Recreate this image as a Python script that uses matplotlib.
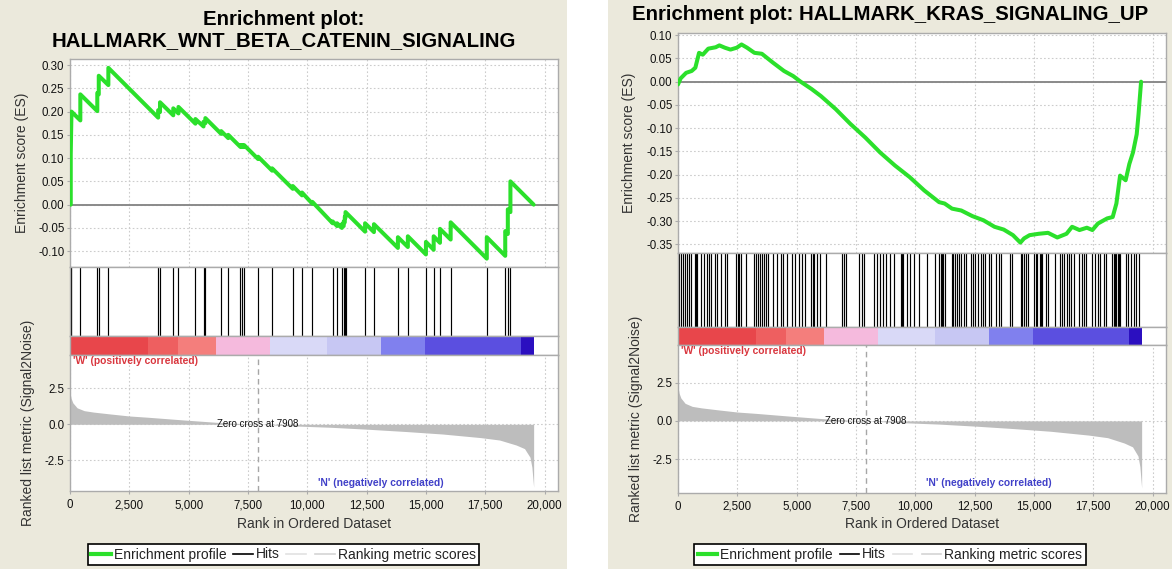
import matplotlib
matplotlib.use("Agg")
import matplotlib.pyplot as plt
from matplotlib.lines import Line2D
from matplotlib.patches import Rectangle
from matplotlib.ticker import FuncFormatter, MultipleLocator

plt.rcParams['font.family'] = ['Liberation Sans', 'DejaVu Sans']
plt.rcParams['axes.unicode_minus'] = False

# ---------------------------------------------------------------- data
# ranked list metric (Signal2Noise) shared by both gene sets
metric_rank = [0, 50, 120, 300, 600, 1000, 1700, 2500, 3300, 4800, 6400, 7908,
               9500, 11000, 12600, 14200, 15700, 17300, 18100, 18800, 19150,
               19380, 19460, 19534]
metric_value = [2.2, 1.8, 1.5, 1.15, 0.95, 0.85, 0.72, 0.58, 0.49, 0.30, 0.11,
                0.0, -0.12, -0.21, -0.35, -0.51, -0.68, -0.93, -1.1, -1.45,
                -1.7, -2.3, -3.0, -4.4]
zero_cross = 7908

# heat-map bar of the ranked list
cbar_edges = [0, 3294, 4538, 6169, 8423, 10831, 13085, 14950, 18990, 19534]
cbar_colors = ['#E8464B', '#EE5F60', '#F47E7C', '#F5BADD', '#D9D9F7',
               '#C7C7F3', '#8080EE', '#5B4FE0', '#2B0FC0']

rank_ticks = [0, 2500, 5000, 7500, 10000, 12500, 15000, 17500, 20000]

# HALLMARK_WNT_BETA_CATENIN_SIGNALING
wnt_hits = [31, 62, 435, 1150, 1212, 1616, 3714, 3792, 4351, 4569, 5284, 5625,
            5703, 6371, 6667, 7180, 7257, 7335, 7925, 8516, 9386, 9775, 10210,
            11064, 11251, 11453, 11531, 11577, 11608, 12432, 12805, 13815,
            14234, 14996, 15322, 15587, 16037, 17560, 18337, 18446, 18555]
wnt_es_rank = [0, 31, 31, 62, 435, 435, 1150, 1150, 1212, 1212, 1616, 1616,
               3714, 3714, 3792, 3792, 4351, 4351, 4569, 4569, 5284, 5284,
               5625, 5625, 5703, 5703, 6371, 6371, 6667, 6667, 7180, 7180,
               7257, 7257, 7335, 7335, 7925, 7925, 8516, 8516, 9386, 9386,
               9775, 9775, 10210, 10210, 11064, 11064, 11251, 11251, 11453,
               11453, 11531, 11531, 11577, 11577, 11608, 11608, 12432, 12432,
               12805, 12805, 13815, 13815, 14234, 14234, 14996, 14996, 15322,
               15322, 15587, 15587, 16037, 16037, 17560, 17560, 18337, 18337,
               18446, 18446, 18555, 18555, 19534]
wnt_es_value = [0.0, 0.0, 0.108, 0.200, 0.181, 0.237, 0.201, 0.240, 0.237,
                0.277, 0.257, 0.294, 0.187, 0.203, 0.199, 0.220, 0.192, 0.207,
                0.196, 0.210, 0.174, 0.184, 0.168, 0.178, 0.175, 0.186, 0.152,
                0.158, 0.143, 0.150, 0.124, 0.128, 0.124, 0.128, 0.124, 0.128,
                0.098, 0.103, 0.073, 0.078, 0.034, 0.040, 0.020, 0.026, 0.002,
                0.006, -0.040, -0.036, -0.046, -0.040, -0.050, -0.042, -0.046,
                -0.036, -0.038, -0.026, -0.028, -0.016, -0.058, -0.040, -0.059,
                -0.042, -0.093, -0.070, -0.091, -0.068, -0.107, -0.080, -0.097,
                -0.068, -0.082, -0.052, -0.075, -0.038, -0.116, -0.070, -0.110,
                -0.057, -0.063, -0.010, -0.016, 0.050, 0.0]

# HALLMARK_KRAS_SIGNALING_UP
kras_hits = [59, 143, 227, 312, 396, 480, 564, 704, 760, 816, 956, 1097, 1209,
             1293, 1405, 1545, 1657, 1826, 1966, 2050, 2443, 2513, 2583, 2639,
             2863, 3200, 3284, 3368, 3452, 3536, 3620, 3704, 3788, 3985, 4181,
             4321, 4434, 4602, 4798, 4910, 5078, 5219, 5331, 5611, 5668, 5724,
             5864, 5976, 6228, 6929, 6999, 7069, 7630, 7742, 7826, 8275, 8387,
             8499, 8640, 8780, 8948, 9088, 9397, 9439, 9481, 9649, 9789, 9944,
             10168, 10476, 10813, 11009, 11065, 11121, 11177, 11261, 11542,
             11598, 11654, 11738, 11822, 11934, 12047, 12131, 12327, 12439,
             12523, 12635, 12748, 12832, 12944, 13084, 13168, 13392, 13504,
             13617, 13981, 14065, 14430, 14514, 14598, 14682, 14766, 15019,
             15075, 15131, 15243, 15299, 15355, 15495, 15608, 15888, 16084,
             16196, 16280, 16393, 16477, 16561, 16701, 16897, 17010, 17122,
             17206, 17458, 17570, 17682, 17795, 17935, 18019, 18299, 18355,
             18411, 18467, 18523, 18579, 18636, 18860, 18972, 19084, 19196,
             19308, 19420]
kras_es_rank = [0, 109, 342, 576, 731, 887, 1043, 1276, 1587, 1743, 1976, 2210,
                2474, 2676, 2910, 3221, 3532, 3999, 4466, 4855, 5166, 5633,
                6022, 6644, 7267, 7889, 8511, 9134, 9756, 10378, 11000, 11234,
                11546, 11935, 12401, 12868, 13335, 13724, 14113, 14424, 14580,
                14813, 15202, 15591, 15980, 16369, 16603, 16914, 17226, 17459,
                17692, 18081, 18314, 18470, 18625, 18859, 19015, 19170, 19326,
                19403, 19510]
kras_es_value = [-0.006, 0.007, 0.019, 0.023, 0.030, 0.062, 0.058, 0.071,
                 0.074, 0.078, 0.073, 0.069, 0.073, 0.080, 0.073, 0.062, 0.060,
                 0.041, 0.023, 0.012, 0.000, -0.016, -0.031, -0.059, -0.091,
                 -0.120, -0.152, -0.180, -0.205, -0.234, -0.259, -0.262,
                 -0.273, -0.277, -0.289, -0.298, -0.312, -0.318, -0.330,
                 -0.346, -0.337, -0.330, -0.327, -0.325, -0.335, -0.327,
                 -0.312, -0.319, -0.314, -0.319, -0.305, -0.294, -0.291,
                 -0.262, -0.202, -0.212, -0.177, -0.152, -0.113, -0.070, 0.000]

# ---------------------------------------------------------------- style
W, H = 1172, 569
BEIGE = '#EBE9DC'
GREEN = '#2BE02B'
SPINE = '#ABABAB'
GRID = '#CCCCCC'
TXT = '#111111'


def frac_box(x0, y0, x1, y1):
    """pixel box (top-left origin) -> figure fraction rect"""
    return [x0 / W, 1 - y1 / H, (x1 - x0) / W, (y1 - y0) / H]


def style_spines(ax):
    for s in ax.spines.values():
        s.set_color(SPINE)
        s.set_linewidth(1.0)


def grid(ax):
    ax.grid(True, color=GRID, linestyle=(0, (1.5, 2)), linewidth=0.8)
    ax.set_axisbelow(True)


fig = plt.figure(figsize=(W / 100, H / 100), dpi=100, facecolor='white')
fig.patches.append(Rectangle((0, 0), 567 / W, 1, transform=fig.transFigure,
                             facecolor=BEIGE, edgecolor='none', zorder=-5))
fig.patches.append(Rectangle((608 / W, 0), (W - 608) / W, 1,
                             transform=fig.transFigure, facecolor=BEIGE,
                             edgecolor='none', zorder=-5))

XMAX = 20560


def draw_panel(g, title, title_y, hits, es_rank, es_value):
    x0, x1 = g['x0'], g['x1']
    ax_es = fig.add_axes(frac_box(x0, g['es'][0], x1, g['es'][1]))
    ax_hit = fig.add_axes(frac_box(x0, g['hits'][0], x1, g['hits'][1]))
    ax_bar = fig.add_axes(frac_box(x0, g['cbar'][0], x1, g['cbar'][1]))
    ax_m = fig.add_axes(frac_box(x0, g['metric'][0], x1, g['metric'][1]))

    for ax in (ax_es, ax_hit, ax_bar, ax_m):
        ax.set_xlim(0, XMAX)
        ax.set_facecolor('white')
        style_spines(ax)

    # enrichment score
    ax_es.plot(es_rank, es_value, color=GREEN, lw=2.9, solid_joinstyle='round',
               solid_capstyle='round', zorder=3)
    ax_es.axhline(0, color='#8A8A8A', lw=1.4, zorder=2)
    ax_es.set_ylim(*g['es_ylim'])
    ax_es.yaxis.set_major_locator(MultipleLocator(0.05))
    ax_es.yaxis.set_major_formatter(FuncFormatter(lambda v, p: f"{v:.2f}"))
    ax_es.set_xticks(rank_ticks)
    ax_es.tick_params(axis='x', length=0, labelbottom=False)
    ax_es.tick_params(axis='y', length=2, color=SPINE, labelsize=8.3,
                      labelcolor=TXT, pad=2)
    grid(ax_es)
    ax_es.set_ylabel('Enrichment score (ES)', fontsize=10, color='#333333',
                     va='center')
    ax_es.yaxis.set_label_coords((g['ylab_es'] - x0) / (x1 - x0), 0.5)

    # hits
    ax_hit.vlines(hits, 0, 1, color='black', lw=0.85)
    ax_hit.set_ylim(0, 1)
    ax_hit.set_xticks([])
    ax_hit.set_yticks([])

    # ranked list heat bar
    for a, b, c in zip(cbar_edges[:-1], cbar_edges[1:], cbar_colors):
        ax_bar.axvspan(a, b, color=c, lw=0)
    ax_bar.set_xticks([])
    ax_bar.set_yticks([])

    # ranked list metric
    ax_m.fill_between(metric_rank, metric_value, 0, color='#BDBDBD', lw=0,
                      zorder=2)
    ax_m.axvline(zero_cross, color='#A6A6A6', lw=1.0, ls=(0, (4, 3)), zorder=3)
    ax_m.set_ylim(*g['m_ylim'])
    ax_m.set_yticks([-2.5, 0.0, 2.5])
    ax_m.yaxis.set_major_formatter(FuncFormatter(lambda v, p: f"{v:.1f}"))
    ax_m.set_xticks(rank_ticks)
    ax_m.xaxis.set_major_formatter(FuncFormatter(lambda v, p: f"{int(v):,}"))
    ax_m.tick_params(length=2, color=SPINE, labelsize=8.3, labelcolor=TXT,
                     pad=2)
    ax_m.tick_params(axis='x', pad=4)
    grid(ax_m)
    ax_m.text(zero_cross, 0, f'Zero cross at {zero_cross}', ha='center',
              va='center', fontsize=7, color=TXT, zorder=4)
    ax_m.text(0.006, 0.995, "'W' (positively correlated)",
              transform=ax_m.transAxes, ha='left', va='top', fontsize=7.4,
              fontweight='bold', color='#D9363E', zorder=4)
    ax_m.text(13100, -4.1, "'N' (negatively correlated)", ha='center',
              va='center', fontsize=7.4, fontweight='bold', color='#4040C8',
              zorder=4)
    ax_m.set_ylabel('Ranked list metric (Signal2Noise)', fontsize=10,
                    color='#333333', va='center')
    ax_m.yaxis.set_label_coords((g['ylab_m'] - x0) / (x1 - x0), 0.5)
    ax_m.set_xlabel('Rank in Ordered Dataset', fontsize=10, color='#333333',
                    va='center')
    mh = g['metric'][1] - g['metric'][0]
    ax_m.xaxis.set_label_coords(0.5, -(524 - g['metric'][1]) / mh)

    # title
    cx = (g['panel'][0] + g['panel'][1]) / 2
    fig.text(cx / W, 1 - title_y / H, title, ha='center', va='center',
             fontsize=14.7, fontweight='bold', color='black', linespacing=1.15)

    # legend
    handles = [Line2D([], [], color=GREEN, lw=3),
               Line2D([], [], color='black', lw=1.2),
               Line2D([], [], color='#E2E2E2', lw=1.2),
               Line2D([], [], color='#D4D4D4', lw=1.2)]
    labels = ['Enrichment profile', 'Hits', '', 'Ranking metric scores']
    leg = fig.legend(handles, labels, loc='center',
                     bbox_to_anchor=(cx / W, 1 - 554.5 / H), ncol=4,
                     frameon=True, fancybox=False, fontsize=10,
                     handlelength=1.4, handletextpad=0.2, columnspacing=0.5,
                     borderpad=0.25, borderaxespad=0)
    fr = leg.get_frame()
    fr.set_edgecolor('black')
    fr.set_linewidth(1.2)
    fr.set_facecolor('white')
    fr.set_alpha(1)
    for t in leg.get_texts():
        t.set_color('#222222')


left_geom = dict(x0=70, x1=558, es=(59, 267), hits=(267, 336),
                 cbar=(336, 355), metric=(355, 491), es_ylim=(-0.134, 0.313),
                 m_ylim=(-4.66, 4.84), panel=(0, 567), ylab_es=22, ylab_m=28)
right_geom = dict(x0=678, x1=1166, es=(33.3, 253.3), hits=(253.3, 326.7),
                  cbar=(326.7, 345), metric=(345, 492.5),
                  es_ylim=(-0.369, 0.104), m_ylim=(-4.69, 4.97),
                  panel=(608, 1172), ylab_es=629, ylab_m=636)

draw_panel(left_geom, 'Enrichment plot:\nHALLMARK_WNT_BETA_CATENIN_SIGNALING',
           30, wnt_hits, wnt_es_rank, wnt_es_value)
draw_panel(right_geom, 'Enrichment plot: HALLMARK_KRAS_SIGNALING_UP', 15,
           kras_hits, kras_es_rank, kras_es_value)

fig.savefig('out.png', dpi=100, facecolor=fig.get_facecolor())
